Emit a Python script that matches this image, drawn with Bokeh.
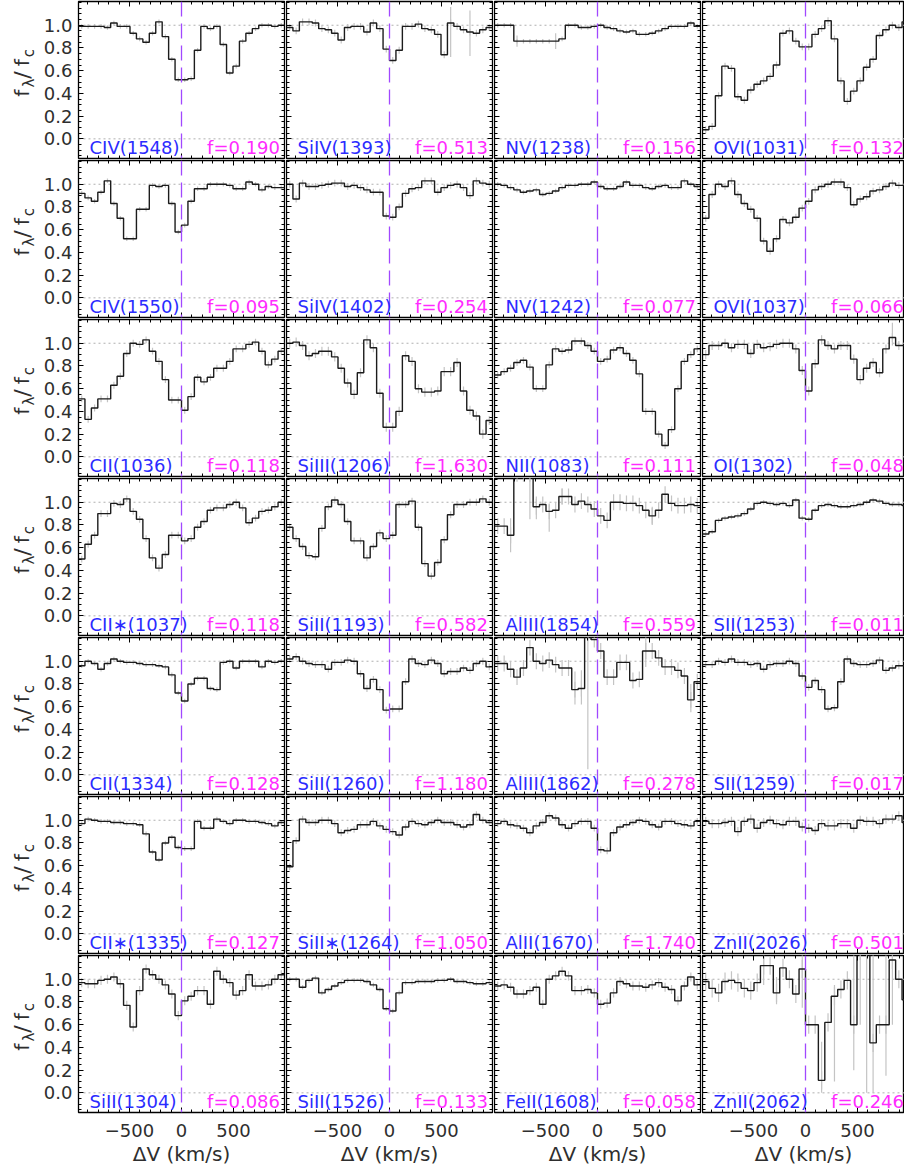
import numpy as np
from bokeh.plotting import figure
from bokeh.layouts import gridplot
from bokeh.models import (Range1d, Span, Label, LinearAxis, FixedTicker,
                          PrintfTickFormatter, CustomJSTickFormatter)
from bokeh.embed import file_html
from bokeh.resources import INLINE

# ---------------------------------------------------------------------------
# Line list, in panel order (row by row, four panels per row)
# ---------------------------------------------------------------------------
ION_LABELS = ["CIV(1548)", "SiIV(1393)", "NV(1238)", "OVI(1031)",
              "CIV(1550)", "SiIV(1402)", "NV(1242)", "OVI(1037)",
              "CII(1036)", "SiIII(1206)", "NII(1083)", "OI(1302)",
              "CII\u2217(1037)", "SiII(1193)", "AlIII(1854)", "SII(1253)",
              "CII(1334)", "SiII(1260)", "AlIII(1862)", "SII(1259)",
              "CII\u2217(1335)", "SiII\u2217(1264)", "AlII(1670)", "ZnII(2026)",
              "SiII(1304)", "SiII(1526)", "FeII(1608)", "ZnII(2062)"]

OSC_STRENGTH = [0.190, 0.513, 0.156, 0.132,
                0.095, 0.254, 0.077, 0.066,
                0.118, 1.630, 0.111, 0.048,
                0.118, 0.582, 0.559, 0.011,
                0.128, 1.180, 0.278, 0.017,
                0.127, 1.050, 1.740, 0.501,
                0.086, 0.133, 0.058, 0.246]

# ---------------------------------------------------------------------------
# Normalised flux f_lambda / f_c in 32 velocity bins across each window
# ---------------------------------------------------------------------------
civ_1548 = [0.99, 0.99, 0.99, 0.99, 0.98, 1.02, 0.99, 0.99, 0.93, 0.88, 0.85, 0.93, 1.03, 0.90, 0.70, 0.52,
            0.52, 0.53, 0.78, 0.99, 0.97, 0.99, 0.83, 0.58, 0.64, 0.86, 0.93, 0.97, 1.00, 1.00, 0.99, 1.00]
siiv_1393 = [0.98, 0.95, 1.03, 1.03, 1.02, 0.97, 0.96, 0.93, 0.87, 0.98, 0.99, 0.99, 0.94, 1.02, 0.97, 0.79,
             0.69, 0.78, 0.99, 0.99, 1.01, 0.97, 0.96, 0.92, 0.74, 1.02, 0.99, 0.96, 0.94, 0.93, 0.96, 0.98]
nv_1238 = [1.00, 1.00, 1.00, 0.86, 0.86, 0.86, 0.86, 0.86, 0.86, 0.86, 0.88, 1.00, 1.00, 0.98, 0.98, 0.99,
           1.00, 0.98, 0.97, 0.95, 0.94, 0.95, 0.92, 0.92, 0.93, 0.95, 0.97, 0.99, 0.99, 0.99, 1.02, 0.99]
ovi_1031 = [0.08, 0.11, 0.38, 0.64, 0.62, 0.37, 0.34, 0.43, 0.48, 0.51, 0.55, 0.65, 0.93, 0.95, 0.86, 0.81,
            0.81, 0.92, 0.97, 1.04, 0.88, 0.51, 0.33, 0.42, 0.51, 0.63, 0.70, 0.91, 0.96, 1.00, 0.98, 1.03]

civ_1550 = [0.92, 0.88, 0.85, 0.93, 1.03, 0.83, 0.70, 0.52, 0.52, 0.78, 0.78, 0.99, 0.98, 0.99, 0.83, 0.58,
            0.64, 0.85, 0.96, 0.96, 1.00, 1.00, 1.00, 0.99, 0.96, 0.96, 1.02, 1.00, 0.95, 0.98, 0.97, 0.97]
siiv_1402 = [1.00, 0.87, 1.01, 0.98, 0.98, 0.99, 1.00, 1.01, 1.01, 0.98, 0.99, 0.97, 0.95, 0.93, 0.93, 0.72,
             0.71, 0.80, 0.92, 0.96, 0.97, 1.03, 1.03, 0.93, 0.97, 0.99, 1.00, 0.97, 0.90, 1.03, 1.01, 1.00]
nv_1242 = [1.00, 0.99, 0.97, 0.95, 0.93, 0.94, 0.95, 0.91, 0.92, 0.94, 0.97, 0.99, 0.99, 1.00, 1.00, 1.02,
           0.98, 0.96, 0.96, 0.98, 1.02, 0.99, 0.99, 0.97, 0.96, 0.98, 0.99, 0.97, 0.97, 1.03, 1.00, 0.98]
ovi_1037 = [0.70, 0.91, 1.00, 0.98, 1.03, 0.91, 0.83, 0.78, 0.70, 0.50, 0.41, 0.52, 0.69, 0.66, 0.71, 0.79,
            0.85, 0.95, 0.98, 1.00, 1.02, 1.02, 0.97, 0.82, 0.87, 0.89, 0.94, 0.95, 0.98, 1.01, 0.99, 0.99]

cii_1036 = [0.51, 0.33, 0.43, 0.51, 0.51, 0.63, 0.71, 0.91, 1.00, 0.99, 1.03, 0.93, 0.84, 0.68, 0.50, 0.50,
            0.41, 0.53, 0.70, 0.66, 0.70, 0.78, 0.78, 0.84, 0.95, 0.95, 0.99, 1.01, 0.93, 0.81, 0.86, 0.93]
siiii_1206 = [1.00, 1.01, 0.98, 0.89, 0.91, 0.93, 0.93, 0.88, 0.78, 0.65, 0.55, 0.74, 1.03, 0.96, 0.56, 0.26,
              0.26, 0.40, 0.89, 0.84, 0.60, 0.57, 0.57, 0.58, 0.75, 0.75, 0.83, 0.58, 0.41, 0.36, 0.20, 0.32]
nii_1083 = [0.72, 0.75, 0.78, 0.83, 0.85, 0.79, 0.60, 0.60, 0.81, 0.95, 0.93, 0.94, 1.02, 1.02, 0.98, 0.93,
            0.84, 0.86, 0.94, 0.96, 0.91, 0.85, 0.73, 0.40, 0.40, 0.20, 0.10, 0.24, 0.60, 0.84, 0.90, 0.95]
oi_1302 = [0.90, 0.98, 0.98, 1.00, 0.96, 0.99, 0.99, 0.91, 0.99, 0.96, 0.97, 0.99, 1.00, 1.00, 0.95, 0.76,
           0.58, 0.82, 1.03, 0.98, 0.95, 0.98, 0.98, 0.86, 0.68, 0.78, 0.83, 0.74, 0.95, 1.05, 0.98, 0.98]

ciis_1037 = [0.50, 0.63, 0.71, 0.90, 0.90, 0.99, 0.98, 1.03, 0.92, 0.85, 0.68, 0.51, 0.42, 0.54, 0.71, 0.71,
             0.66, 0.68, 0.78, 0.83, 0.93, 0.95, 0.95, 0.98, 1.00, 0.95, 0.82, 0.86, 0.92, 0.93, 0.96, 1.00]
siii_1193 = [0.78, 0.68, 0.61, 0.53, 0.52, 0.77, 0.96, 1.02, 0.98, 0.83, 0.66, 0.66, 0.51, 0.61, 0.73, 0.68,
             0.71, 0.98, 0.98, 1.01, 0.78, 0.46, 0.35, 0.47, 0.67, 0.89, 0.98, 0.98, 1.00, 1.00, 1.03, 1.00]
aliii_1854 = [0.79, 0.79, 0.71, 1.25, 1.25, 1.25, 0.96, 0.98, 0.92, 0.93, 1.05, 1.05, 0.98, 1.01, 0.98, 0.94,
              0.88, 0.84, 1.00, 1.00, 0.99, 0.99, 0.97, 0.93, 0.88, 0.93, 1.07, 0.99, 0.97, 0.97, 0.98, 0.97]
sii_1253 = [0.72, 0.74, 0.84, 0.86, 0.87, 0.88, 0.90, 0.94, 0.99, 1.00, 0.99, 0.98, 0.99, 0.97, 1.02, 0.86,
            0.85, 0.93, 0.97, 0.98, 0.97, 0.96, 0.96, 0.97, 0.98, 1.00, 1.02, 1.01, 0.99, 0.98, 0.98, 0.97]

cii_1334 = [0.96, 1.00, 0.98, 0.93, 0.98, 1.02, 1.00, 0.99, 0.99, 0.98, 0.97, 0.97, 0.96, 0.95, 0.88, 0.72,
            0.65, 0.80, 0.85, 0.85, 0.76, 0.75, 0.99, 1.00, 0.94, 1.00, 1.00, 1.00, 0.95, 1.00, 0.99, 1.00]
siii_1260 = [1.02, 1.04, 1.00, 0.98, 0.97, 0.97, 0.93, 0.99, 0.99, 1.01, 1.00, 0.89, 0.76, 0.84, 0.75, 0.57,
             0.58, 0.58, 0.82, 1.02, 0.98, 0.97, 1.01, 0.98, 0.89, 0.91, 0.91, 0.94, 0.92, 0.98, 1.00, 0.95]
aliii_1862 = [0.98, 0.98, 0.93, 0.86, 0.94, 1.12, 1.00, 0.98, 1.01, 0.97, 0.94, 0.94, 0.75, 0.76, 1.25, 1.19,
              1.09, 0.86, 0.86, 0.99, 0.99, 0.83, 0.84, 1.09, 1.09, 1.03, 0.95, 0.95, 0.92, 0.87, 0.66, 0.82]
sii_1259 = [0.97, 0.97, 1.00, 0.99, 1.02, 0.99, 0.99, 0.97, 0.98, 0.93, 0.97, 0.98, 0.98, 1.00, 0.98, 0.87,
            0.77, 0.83, 0.75, 0.58, 0.59, 0.82, 1.02, 0.98, 0.97, 0.97, 0.98, 1.01, 0.92, 0.94, 0.96, 0.96]

ciis_1335 = [0.97, 1.01, 1.00, 0.99, 0.99, 0.98, 0.98, 0.97, 0.97, 0.96, 0.88, 0.72, 0.65, 0.80, 0.85, 0.76,
             0.75, 0.75, 0.99, 0.93, 0.93, 1.01, 0.99, 0.97, 1.00, 1.00, 0.99, 0.99, 0.98, 0.97, 0.95, 0.98]
siiis_1264 = [0.59, 0.82, 1.01, 0.98, 0.98, 1.00, 1.00, 0.97, 0.89, 0.91, 0.92, 0.96, 0.96, 0.99, 0.95, 0.92,
              0.90, 0.87, 0.94, 0.99, 0.97, 0.96, 0.98, 1.00, 0.98, 0.98, 0.96, 0.94, 0.96, 1.05, 1.00, 0.98]
alii_1670 = [0.97, 0.99, 0.96, 0.95, 0.93, 0.89, 0.95, 0.98, 1.04, 1.02, 0.96, 0.93, 0.97, 0.99, 0.99, 0.93,
             0.74, 0.73, 0.89, 0.94, 0.96, 0.98, 1.00, 0.99, 0.96, 0.94, 0.99, 0.99, 0.97, 0.96, 0.95, 0.99]
znii_2026 = [0.99, 0.97, 0.97, 0.98, 0.99, 0.90, 0.99, 1.01, 0.93, 0.98, 1.00, 0.97, 0.96, 0.99, 0.99, 0.94,
             0.93, 0.91, 0.97, 0.95, 0.95, 0.97, 0.97, 0.93, 1.00, 0.99, 0.99, 0.97, 1.01, 1.01, 1.04, 0.98]

siii_1304 = [0.97, 0.96, 0.96, 0.99, 1.00, 1.02, 0.96, 0.77, 0.58, 0.90, 1.09, 1.04, 1.00, 0.95, 0.87, 0.68,
             0.81, 0.85, 0.90, 0.90, 0.78, 1.07, 1.00, 0.97, 0.86, 0.90, 1.04, 0.94, 0.94, 0.95, 1.00, 1.04]
siii_1526 = [1.00, 1.00, 0.93, 0.99, 1.01, 0.88, 0.91, 0.94, 0.97, 0.99, 0.99, 0.99, 0.98, 0.95, 0.91, 0.74,
             0.72, 0.88, 0.97, 0.97, 0.98, 0.98, 0.98, 0.99, 0.99, 1.00, 0.98, 0.98, 0.97, 0.96, 0.96, 0.97]
feii_1608 = [0.94, 0.95, 0.93, 0.87, 0.87, 0.90, 0.93, 0.78, 1.00, 1.03, 1.07, 1.03, 0.90, 0.90, 0.91, 0.88,
             0.78, 0.79, 0.88, 0.98, 0.96, 0.94, 0.94, 0.93, 0.95, 0.97, 0.93, 0.91, 0.81, 0.94, 1.02, 0.95]
znii_2062 = [0.98, 0.92, 0.88, 0.98, 0.99, 0.97, 0.92, 0.90, 0.97, 1.12, 1.12, 0.88, 1.10, 1.00, 0.87, 1.09,
             0.60, 0.60, 0.11, 0.62, 0.85, 0.91, 0.99, 0.60, 1.25, 1.25, 0.44, 0.60, 0.60, 1.17, 1.00, 0.82]

SPECTRA = [civ_1548, siiv_1393, nv_1238, ovi_1031,
           civ_1550, siiv_1402, nv_1242, ovi_1037,
           cii_1036, siiii_1206, nii_1083, oi_1302,
           ciis_1037, siii_1193, aliii_1854, sii_1253,
           cii_1334, siii_1260, aliii_1862, sii_1259,
           ciis_1335, siiis_1264, alii_1670, znii_2026,
           siii_1304, siii_1526, feii_1608, znii_2062]

# typical 1-sigma flux error of each panel
FLUX_ERR = [0.02, 0.03, 0.02, 0.03,
            0.02, 0.03, 0.02, 0.03,
            0.03, 0.04, 0.03, 0.04,
            0.03, 0.03, 0.07, 0.02,
            0.02, 0.03, 0.07, 0.03,
            0.02, 0.03, 0.03, 0.04,
            0.04, 0.02, 0.04, 0.08]

# noisy pixels: panel -> [(bin, lower, upper)]
NOISY_BINS = {
    1: [(25, 0.72, 1.16), (28, 0.73, 1.13)],
    2: [(3, 0.81, 0.91), (9, 0.79, 0.93)],
    11: [(29, 0.98, 1.18)],
    14: [(2, 0.56, 0.86), (5, 0.85, 1.25), (6, 0.85, 1.05), (8, 0.74, 0.98),
         (10, 0.98, 1.12), (24, 0.80, 0.96)],
    18: [(12, 0.62, 0.91), (13, 0.62, 0.92), (14, 0.05, 1.25), (23, 0.95, 1.25),
         (30, 0.55, 0.80)],
    27: [(9, 0.95, 1.25), (11, 0.78, 1.02), (15, 0.75, 1.25), (18, 0.0, 0.45),
         (20, 0.10, 0.95), (23, 0.20, 1.25), (24, 0.60, 1.25), (25, 0.0, 1.25),
         (26, 0.0, 1.25), (28, 0.15, 1.25), (29, 0.60, 1.25), (31, 0.50, 1.00)],
}

# axis layout
V_MIN, V_MAX = -990.0, 990.0
Y_MIN, Y_MAX = -0.173, 1.209
N_BINS = 32
X_MAJOR = [-500, 0, 500]
X_MINOR = list(range(-900, 1000, 100))
Y_MAJOR = [0.0, 0.2, 0.4, 0.6, 0.8, 1.0]
Y_MINOR = [round(-0.15 + 0.05 * i, 2) for i in range(28)]

bin_width = (V_MAX - V_MIN) / N_BINS
vel_edges = V_MIN + bin_width * np.arange(N_BINS + 1)
vel_centers = vel_edges[:-1] + 0.5 * bin_width

FONT = "DejaVu Sans"
TEXT_COLOR = "#2e2e2e"
ION_COLOR = "#2b2bff"
OSC_COLOR = "#ff2bff"
ZERO_COLOR = "#a148ff"
FRAME_W, FRAME_H = 206, 157
LAST_FRAME_W = 202
TITLE_W = 40
PX_PER_KMS = FRAME_W / (V_MAX - V_MIN)
PX_PER_FLUX = FRAME_H / (Y_MAX - Y_MIN)

blank_labels = CustomJSTickFormatter(code="return ''")


def style_axis(ax, labelled):
    ax.axis_line_color = None
    ax.major_tick_in = 5
    ax.major_tick_out = 0
    ax.minor_tick_in = 3
    ax.minor_tick_out = 0
    ax.major_tick_line_color = "black"
    ax.minor_tick_line_color = "black"
    ax.major_tick_line_width = 1
    ax.minor_tick_line_width = 1
    if labelled:
        ax.major_label_text_font = FONT
        ax.major_label_text_font_size = "18px"
        ax.major_label_text_color = TEXT_COLOR
    else:
        ax.formatter = blank_labels
        ax.major_label_text_font_size = "1px"
        ax.major_label_standoff = 0


def make_title_cell(row):
    """Narrow cell left of the first column holding the rotated y title."""
    last_row = row == 6
    p = figure(frame_width=TITLE_W, frame_height=FRAME_H,
               x_range=Range1d(0, TITLE_W), y_range=Range1d(Y_MIN, Y_MAX),
               x_axis_location=None, y_axis_location=None,
               output_backend="svg", toolbar_location=None, title=None,
               min_border_left=0, min_border_right=0, min_border_top=1,
               min_border_bottom=57 if last_row else 1,
               background_fill_color="white", border_fill_color="white",
               outline_line_color=None)
    p.xgrid.visible = False
    p.ygrid.visible = False
    # (text, x of text mid-line in px, y start in flux units, size)
    pieces = [("f", 21.5, 0.370, "20px"),
              ("\u03bb", 28.0, 0.452, "15px"),
              ("/", 21.5, 0.530, "22px"),
              ("f", 21.5, 0.640, "20px"),
              ("c", 28.0, 0.718, "15px")]
    for txt, xx, yy, size in pieces:
        p.add_layout(Label(x=xx, y=yy, text=txt, angle=np.pi / 2, angle_units="rad",
                           text_font=FONT, text_font_size=size, text_color=TEXT_COLOR,
                           text_align="left", text_baseline="middle"))
    return p


def make_panel(idx):
    row, col = divmod(idx, 4)
    last_col = col == 3
    last_row = row == 6
    fw = LAST_FRAME_W if last_col else FRAME_W
    x_end = V_MIN + fw / PX_PER_KMS
    p = figure(frame_width=fw, frame_height=FRAME_H,
               x_range=Range1d(V_MIN, x_end), y_range=Range1d(Y_MIN, Y_MAX),
               output_backend="svg", toolbar_location=None, title=None,
               min_border_left=78 - TITLE_W if col == 0 else 1,
               min_border_right=0 if last_col else 1,
               min_border_top=1, min_border_bottom=57 if last_row else 1,
               background_fill_color="white", border_fill_color="white",
               outline_line_color="black", outline_line_width=1.3)
    p.xgrid.visible = False
    p.ygrid.visible = False

    xt = FixedTicker(ticks=X_MAJOR, minor_ticks=X_MINOR)
    yt = FixedTicker(ticks=Y_MAJOR, minor_ticks=Y_MINOR)

    xax = p.xaxis[0]
    xax.ticker = xt
    style_axis(xax, last_row)
    if last_row:
        xax.major_label_overrides = {-500: "\u2212500", 0: "0", 500: "500"}
        xax.major_label_standoff = 11
        xax.axis_label = "\u0394V (km/s)"
        xax.axis_label_text_font = FONT
        xax.axis_label_text_font_size = "20px"
        xax.axis_label_text_font_style = "normal"
        xax.axis_label_text_color = TEXT_COLOR
        xax.axis_label_standoff = 2

    yax = p.yaxis[0]
    yax.ticker = yt
    style_axis(yax, col == 0)
    if col == 0:
        yax.formatter = PrintfTickFormatter(format="%.1f")
        yax.major_label_standoff = 6

    top = LinearAxis(ticker=xt)
    style_axis(top, False)
    p.add_layout(top, "above")
    if not last_col:
        right = LinearAxis(ticker=yt)
        style_axis(right, False)
        p.add_layout(right, "right")

    for level in (1.0, 0.0):
        p.add_layout(Span(location=level, dimension="width", line_color="#b0b0b0",
                          line_dash="2 3", line_width=1, level="underlay"))

    flux = np.array(SPECTRA[idx])
    err = FLUX_ERR[idx]
    p.segment(vel_centers, flux - err, vel_centers, flux + err,
              line_color="#c4c4c4", line_width=1.2)
    noisy = NOISY_BINS.get(idx, [])
    if noisy:
        p.segment([vel_centers[k] for k, _, _ in noisy], [lo for _, lo, _ in noisy],
                  [vel_centers[k] for k, _, _ in noisy], [hi for _, _, hi in noisy],
                  line_color="#c4c4c4", line_width=1.2)
    p.step(vel_edges, np.append(flux, flux[-1]), mode="after",
           line_color="#1c1c1c", line_width=1.4)

    p.add_layout(Span(location=0.0, dimension="height", line_color=ZERO_COLOR,
                      line_dash="15 7", line_width=1.3))

    # labels: vertical mid-line of the text sits ~11 px above the frame bottom
    mid = Y_MIN + 11 / PX_PER_FLUX
    p.add_layout(Label(x=V_MIN + 11 / PX_PER_KMS, y=mid, text=ION_LABELS[idx],
                       text_font=FONT, text_font_size="18px", text_color=ION_COLOR,
                       text_align="left", text_baseline="middle"))
    p.add_layout(Label(x=V_MAX - 4.5 / PX_PER_KMS, y=mid,
                       text="f=%.3f" % OSC_STRENGTH[idx],
                       text_font=FONT, text_font_size="18px", text_color=OSC_COLOR,
                       text_align="right", text_baseline="middle"))
    return p


rows = []
for r in range(7):
    rows.append([make_title_cell(r)] + [make_panel(r * 4 + c) for c in range(4)])
grid = gridplot(rows, toolbar_location=None)

open("out.html", "w").write(file_html(grid, INLINE))
